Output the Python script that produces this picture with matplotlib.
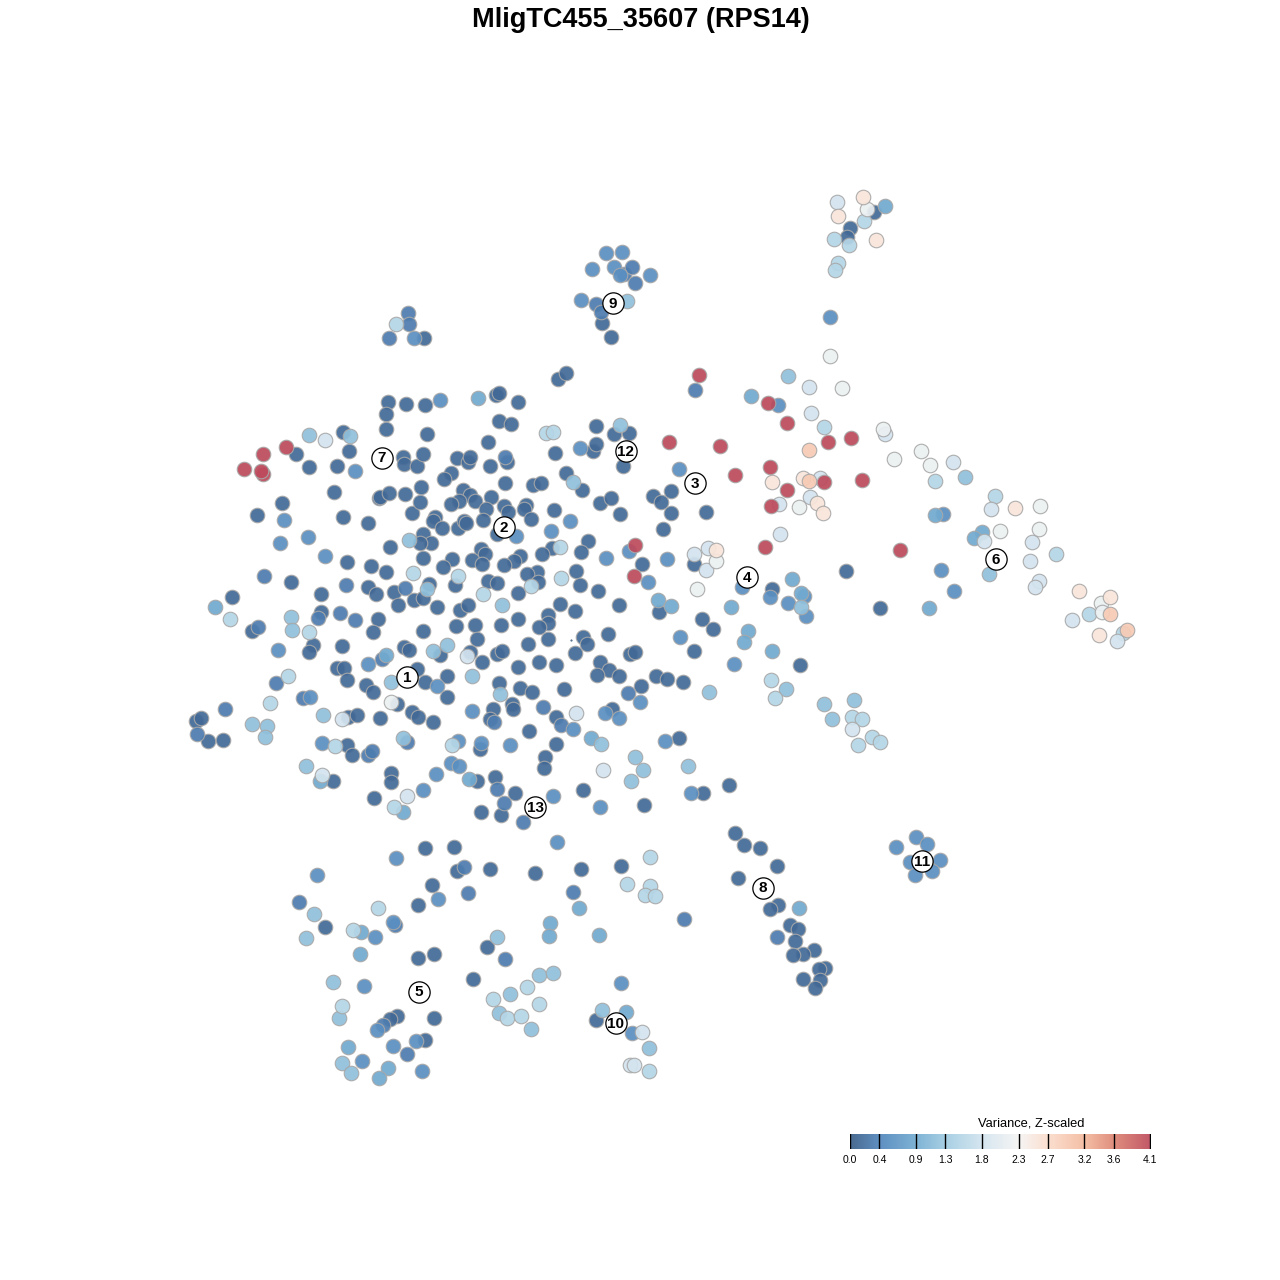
import matplotlib
matplotlib.use("Agg")
import matplotlib.pyplot as plt
from matplotlib.colors import LinearSegmentedColormap, Normalize
import numpy as np

plt.rcParams['font.family'] = ['Liberation Sans', 'DejaVu Sans']

TITLE = "MligTC455_35607 (RPS14)"
LEGEND_TITLE = "Variance, Z-scaled"
tick_values = [0.0, 0.4, 0.9, 1.3, 1.8, 2.3, 2.7, 3.2, 3.6, 4.1]
cmap_colors = ["#4a6a90", "#5f90c2", "#7fb3d5", "#a8d0e4", "#d6e6f0", "#f6f5f4",
               "#fbdfd0", "#f5bfa5", "#e08e7e", "#c25868"]

dark = [(388,402),(406,404),(386,414),(386,429),(343,432),(296,454),(349,451),(309,467),(337,466),(403,457),
(404,464),(417,466),(334,492),(282,503),(257,515),(343,517),(368,523),(379,498),(380,497),(389,493),(405,494),
(412,513),(420,502),(421,487),(390,547),(347,562),(371,566),(386,572),(291,582),(368,587),(376,594),(394,592),
(414,600),(398,605),(321,594),(232,597),(321,612),(378,619),
(252,631),(373,632),(342,646),(313,645),(309,652),(337,668),(344,668),(347,680),(366,685),(373,692),(404,647),
(409,650),(417,669),(348,717),(357,715),(380,718),(397,704),(412,712),(418,717),(196,721),(201,718),(208,741),
(223,740),(347,745),(352,755),(333,781),(391,773),(391,782),(374,798),
(425,405),(496,395),(499,393),(518,402),(558,379),(566,373),(499,421),(511,424),(427,434),(596,426),(614,434),
(629,433),(488,442),(555,453),(593,451),(596,444),(623,466),(423,454),(457,458),(468,462),(470,457),(490,466),
(507,462),(566,473),(582,490),(505,483),(533,485),(541,483),(451,473),(444,479),(463,490),(470,495),(459,501),
(451,504),(475,501),(491,497),(486,509),(504,506),(508,512),(526,505),(524,509),(554,510),(600,503),(611,498),
(620,514),(653,496),(661,502),(671,491),(671,513),(663,529),(435,517),(433,521),(442,528),(458,528),(464,521),
(466,523),(483,520),(531,519),(497,534),(423,534),(431,543),(420,543),(588,541),(581,552),(552,548),(542,554),
(481,549),(485,554),(520,556),(514,561),(504,565),(472,560),(482,564),(452,559),(443,567),(423,558),(642,564),
(576,571),(537,572),(527,574),(538,582),(488,581),(497,583),(429,584),(455,585),(423,598),(518,593),(580,585),
(598,591),(437,607),(460,610),(468,605),(560,604),(575,611),(619,605),(548,615),(518,619),(659,612),
(548,623),(539,627),(456,626),(475,625),(501,625),(423,631),(477,639),(528,644),(548,639),(583,637),(587,644),
(608,634),(575,653),(440,655),(470,652),(482,662),(497,654),(502,651),(630,654),(635,652),(600,662),(539,662),
(556,665),(518,667),(609,670),(597,675),(619,676),(656,676),(641,686),(447,676),(425,682),(447,697),(499,683),
(520,688),(532,692),(564,689),(493,709),(512,704),(513,709),(490,719),(556,717),(612,709),(433,722),(529,731),
(556,744),(480,749),(545,757),(544,768),(477,781),(495,777),(515,793),(583,790),(481,812),(501,815),(644,805),
(667,679),(683,682),(702,619),(713,629),(694,651),(800,665),(679,738),(729,785),(703,793),(706,512),(694,564),
(846,571),(772,589),(880,608),(425,848),(454,847),(457,871),(490,869),(535,873),(432,885),(418,905),(325,927),
(487,947),(434,954),(418,958),(473,979),(397,1016),(390,1019),(434,1018),(425,1040),(581,869),(621,866),(596,1020),
(735,833),(744,845),(760,848),(777,866),(738,878),(778,905),(770,909),(790,925),(798,929),(795,941),(814,950),
(803,954),(793,955),(825,968),(819,969),(820,980),(803,979),(815,988),(611,337),(602,323),(424,338),(850,228),(847,237),(874,212)]

mid = [(264,576),(346,585),(405,588),(258,627),(318,618),(340,613),(355,620),(382,659),(276,683),(303,698),(225,709),
(197,734),(368,755),(372,751),(407,742),(505,457),(628,693),(543,707),(494,722),(561,725),(497,789),(504,803),
(523,822),(408,313),(409,324),(389,338),(596,304),(601,312),(624,274),(632,267),(635,283),(695,390),(299,902),
(464,867),(468,893),(395,925),(684,919),(573,892),(505,959),(383,1025),(407,1054),(777,937)]

blue = [(278,650),(368,664),(310,697),(322,743),(423,790),(284,520),(308,537),(280,543),(325,556),(355,471),(440,400),
(580,448),(570,521),(516,536),(551,531),(606,558),(629,551),(648,582),(640,702),(437,686),(573,729),(605,713),(619,718),
(510,745),(458,741),(481,743),(451,763),(459,766),(436,774),(553,796),(600,807),(557,842),(472,711),(778,405),(679,469),
(667,559),(742,587),(770,597),(804,596),(788,603),(806,616),(680,637),(734,664),(665,741),(691,793),(941,570),(954,591),
(943,514),(396,858),(317,875),(438,899),(375,937),(393,922),(377,1030),(416,1041),(393,1046),(362,1061),(422,1071),
(621,983),(632,1033),(916,837),(927,844),(896,847),(940,860),(910,862),(932,871),(915,875),(606,253),(622,252),
(592,269),(614,267),(620,275),(650,275),(581,300),(830,317),(414,338),(364,986)]

sky = [(215,607),(386,655),(320,781),(403,812),(478,398),(591,738),(469,779),(751,396),(792,579),(801,593),(731,607),
(658,600),(671,606),(748,631),(744,642),(772,651),(935,515),(982,532),(974,538),(929,608),(885,206),(579,908),(550,923),
(549,936),(599,935),(360,954),(361,932),(388,1068),(379,1078),(626,1012),(799,908),(348,1047)]

light = [(291,617),(292,630),(252,724),(267,726),(265,737),(323,715),(391,682),(403,738),(306,766),(309,435),(350,436),
(409,540),(620,425),(573,482),(502,605),(427,589),(433,651),(447,645),(472,676),(500,694),(601,744),(635,757),(643,770),
(631,781),(788,376),(801,607),(709,692),(786,689),(824,704),(832,719),(688,766),(989,574),(965,477),(627,301),
(314,914),(306,938),(497,937),(333,982),(339,1018),(342,1063),(351,1073),(499,1013),(510,994),(531,1029),(539,975),
(553,973),(602,1010),(649,1048),(854,700)]

pale = [(230,619),(309,632),(288,676),(270,703),(335,746),(413,573),(394,807),(546,433),(553,432),(560,547),(561,578),
(458,576),(531,586),(483,594),(452,745),(824,427),(775,698),(852,717),(862,719),(872,737),(880,742),(858,745),(935,481),
(995,496),(1056,554),(1089,614),(1123,633),(864,221),(834,239),(849,245),(838,263),(835,270),(396,324),(378,908),
(353,930),(342,1006),(527,987),(493,999),(539,1004),(507,1018),(521,1016),(650,857),(627,884),(650,886),(645,895),
(655,896),(649,1071),(771,680)]

ice = [(325,440),(342,719),(322,775),(407,796),(467,656),(576,713),(603,770),(809,387),(811,413),(820,478),(810,497),
(779,504),(780,534),(694,554),(706,570),(708,548),(852,729),(885,434),(953,462),(991,509),(984,541),(1032,542),(1030,561),
(1039,581),(1035,587),(1072,620),(1117,641),(837,202),(642,1032),(630,1065),(634,1065)]

white = [(391,702),(830,356),(842,388),(883,429),(894,459),(921,451),(930,465),(799,507),(716,561),(697,589),(1040,506),
(1039,529),(1000,531),(1101,603),(1102,612),(867,209)]

cream = [(772,482),(803,478),(817,503),(716,550),(1015,508),(1079,591),(1110,597),(1099,635),(863,197),(838,216),(876,240),(823,513)]

peach = [(809,450),(809,481),(1110,614),(1127,630)]

red = [(286,447),(263,474),(263,454),(244,469),(261,471),(699,375),(768,403),(787,423),(828,442),(851,438),(669,442),(720,446),
(770,467),(735,475),(824,482),(862,480),(787,490),(771,506),(765,547),(900,550),(635,545),(634,576)]

series = [("dark", dark, 0.12), ("mid", mid, 0.3), ("blue", blue, 0.5), ("sky", sky, 0.85), ("light", light, 1.15),
          ("pale", pale, 1.5), ("ice", ice, 1.8), ("white", white, 2.15), ("cream", cream, 2.55),
          ("peach", peach, 2.95), ("red", red, 4.1)]

cluster_ids = ["1","2","3","4","5","6","7","8","9","10","11","12","13"]
cluster_x = [407,504,695,747,419,996,382,763,613,616,922,626,535]
cluster_y = [677,527,483,577,992,559,458,888,303,1023,861,451,807]

stray_x, stray_y = [571], [640]

cmap = LinearSegmentedColormap.from_list(
    "var", [(v / tick_values[-1], c) for v, c in zip(tick_values, cmap_colors)])
norm = Normalize(tick_values[0], tick_values[-1])

fig = plt.figure(figsize=(12.8, 12.8), dpi=100)
ax = fig.add_axes([0, 0, 1, 1])
ax.set_xlim(0, 1280)
ax.set_ylim(1280, 0)
ax.axis("off")

POINT_ALPHA = 0.93
for _, pts, val in series:
    arr = np.array(pts)
    # the legend shows the colours as seen on white, so undo the alpha for the marks
    rgb = np.array(cmap(norm(val))[:3])
    base = np.clip((rgb - (1 - POINT_ALPHA)) / POINT_ALPHA, 0, 1)
    ax.scatter(arr[:, 0] + 0.4, arr[:, 1] + 0.4, color=[tuple(base)], alpha=POINT_ALPHA,
               s=110, linewidths=0.8, edgecolors=(0.66, 0.66, 0.66), zorder=2)

ax.plot(stray_x, stray_y, ".", ms=1, color="#335577", zorder=2)

ax.scatter(cluster_x, cluster_y, s=235, facecolors="white", edgecolors="black", linewidths=0.9, zorder=3)
for label, cx, cy in zip(cluster_ids, cluster_x, cluster_y):
    ax.text(cx, cy + 0.5, label, ha="center", va="center", fontsize=11, fontweight="bold", color="black", zorder=4)

ax.text(640.5, 20, TITLE, ha="center", va="center", fontsize=19.5, fontweight="bold", color="black")

# legend colour bar
cax = fig.add_axes([850 / 1280, 1 - 1149 / 1280, 300.5 / 1280, 15 / 1280])
cax.imshow(np.linspace(0, 1, 512)[None, :], cmap=cmap, aspect="auto",
           extent=[tick_values[0], tick_values[-1], 0, 1])
cax.set_yticks([])
cax.set_xticks(tick_values)
cax.set_xticklabels([f"{v:.1f}" for v in tick_values], fontsize=7.5)
cax.tick_params(axis="x", length=0, pad=4)
for v in tick_values:
    cax.axvline(v, color="black", lw=1.0)
for s in cax.spines.values():
    s.set_visible(False)
cax.set_xlim(tick_values[0] - 0.002, tick_values[-1] + 0.002)
ax.text(1031, 1123, LEGEND_TITLE, ha="center", va="center", fontsize=9.3, color="black")

fig.savefig("out.png", dpi=100, facecolor="white")
